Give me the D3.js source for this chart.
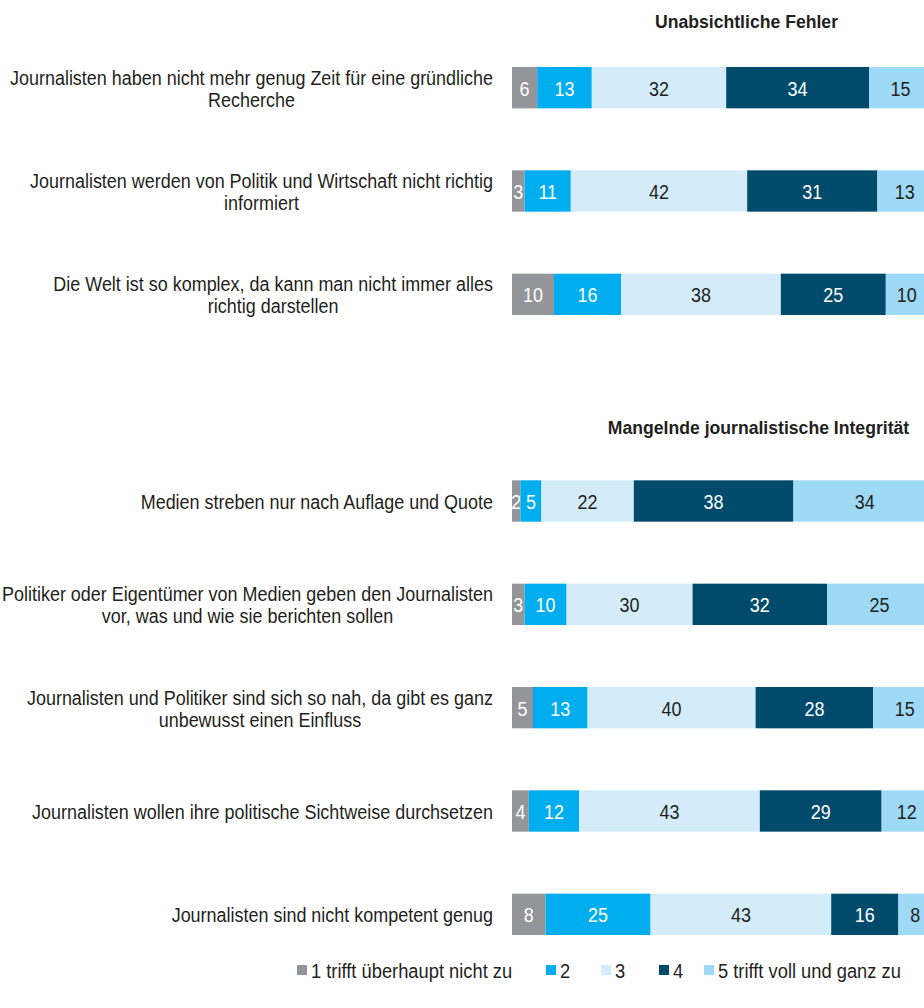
<!DOCTYPE html>
<html>
<head>
<meta charset="utf-8">
<script src="https://cdn.jsdelivr.net/npm/d3@7"></script>
<style>
  body { margin: 0; background: #fff; }
  svg text { font-family: "Liberation Sans", Arial, sans-serif; fill: #231f20; }
</style>
</head>
<body>
<script>
'use strict';

// categories (one entry per bar, line breaks kept as in the picture)
const labels = [
  ["Journalisten haben nicht mehr genug Zeit für eine gründliche", "Recherche"],
  ["Journalisten werden von Politik und Wirtschaft nicht richtig", "informiert"],
  ["Die Welt ist so komplex, da kann man nicht immer alles", "richtig darstellen"],
  ["Medien streben nur nach Auflage und Quote"],
  ["Politiker oder Eigentümer von Medien geben den Journalisten", "vor, was und wie sie berichten sollen"],
  ["Journalisten und Politiker sind sich so nah, da gibt es ganz", "unbewusst einen Einfluss"],
  ["Journalisten wollen ihre politische Sichtweise durchsetzen"],
  ["Journalisten sind nicht kompetent genug"]
];
// which group each bar belongs to
const groupOf = [0, 0, 0, 1, 1, 1, 1, 1];
const groupTitles = ["Unabsichtliche Fehler", "Mangelnde journalistische Integrität"];

// series values (percent), one array per answer level
const s1 = [6, 3, 10, 2, 3, 5, 4, 8];
const s2 = [13, 11, 16, 5, 10, 13, 12, 25];
const s3 = [32, 42, 38, 22, 30, 40, 43, 43];
const s4 = [34, 31, 25, 38, 32, 28, 29, 16];
const s5 = [15, 13, 10, 34, 25, 15, 12, 8];

const seriesNames = ["1 trifft überhaupt nicht zu", "2", "3", "4", "5 trifft voll und ganz zu"];
const seriesColors = ["#939598", "#00aeef", "#d4ecfa", "#004b6b", "#9ed9f6"];
const labelColors = ["#fff", "#fff", "#231f20", "#fff", "#231f20"];

const width = 924, height = 1008;
const fs = "20px";

const rows = labels.map((l, i) => ({
  id: i, lines: l, group: groupOf[i],
  vals: [s1[i], s2[i], s3[i], s4[i], s5[i]]
}));

// slot index: leave one empty slot between the two groups
const slotOf = (d) => d.id + (d.group === 1 ? 1 : 0);

const x = d3.scaleLinear().domain([0, 100]).range([512, 932]);
const y = d3.scaleBand().domain(d3.range(9)).range([36, 966]).paddingInner(0.6).paddingOuter(0.3);

const svg = d3.select("body").append("svg")
    .attr("width", width)
    .attr("height", height);

// the original uses a condensed face; squeeze the installed one to match
function condense(sel, f) {
  sel.each(function() {
    const w = this.getComputedTextLength();
    d3.select(this)
      .attr("textLength", w * f)
      .attr("lengthAdjust", "spacingAndGlyphs");
  });
}

const stack = d3.stack().keys(d3.range(5)).value((d, k) => d.vals[k]);
const layers = stack(rows);

const layer = svg.selectAll(".layer")
  .data(layers)
  .enter().append("g")
    .attr("class", "layer")
    .attr("fill", (d, i) => seriesColors[i]);

layer.selectAll("rect")
  .data((d) => d)
  .enter().append("rect")
    .attr("x", (d) => x(d[0]))
    .attr("y", (d) => y(slotOf(d.data)))
    .attr("width", (d) => x(d[1]) - x(d[0]))
    .attr("height", y.bandwidth());

const nums = layer.selectAll("text")
  .data((d, i) => d.map((p) => ({p: p, k: i})))
  .enter().append("text")
    .attr("x", (d) => (x(d.p[0]) + x(d.p[1])) / 2)
    .attr("y", (d) => y(slotOf(d.p.data)) + y.bandwidth() / 2)
    .attr("dy", "0.4em")
    .attr("text-anchor", "middle")
    .style("font-size", fs)
    .style("fill", (d) => labelColors[d.k])
    .text((d) => d.p.data.vals[d.k]);

// category labels
const cat = svg.selectAll(".cat")
  .data(rows)
  .enter().append("text")
    .attr("class", "cat")
    .attr("text-anchor", "middle")
    .style("font-size", fs)
    .attr("y", (d) => y(slotOf(d)) + y.bandwidth() / 2);

cat.selectAll("tspan")
  .data((d) => d.lines.map((t, j) => ({t: t, j: j, n: d.lines.length})))
  .enter().append("tspan")
    .attr("dy", (d) => d.j === 0 ? (0.4 - (d.n - 1) * 0.55) + "em" : "1.1em")
    .text((d) => d.t);

// factor so that the longest label spans the same width as in the original
const f = 483 / cat.select("tspan").node().getComputedTextLength();

cat.selectAll("tspan").call(condense, f);
nums.call(condense, f);

// right-align the first line, centre the rest under it
cat.each(function() {
  const spans = d3.select(this).selectAll("tspan").nodes();
  const w0 = +spans[0].getAttribute("textLength");
  const cx = 493 - w0 / 2;
  spans.forEach((s) => d3.select(s).attr("x", cx));
});

// group titles
const titles = svg.selectAll(".title")
  .data(groupTitles)
  .enter().append("text")
    .attr("class", "title")
    .attr("x", (d, i) => i === 0 ? 746.5 : 758.5)
    .attr("y", (d, i) => i === 0 ? 28 : 434)
    .attr("text-anchor", "middle")
    .style("font-size", "18px")
    .style("font-weight", "bold")
    .text((d) => d);
const ft = 183 / titles.node().getComputedTextLength();
titles.call(condense, ft);

// legend
const legX = [297, 546, 601, 659, 704];
const leg = svg.selectAll(".leg")
  .data(seriesNames)
  .enter().append("g")
    .attr("class", "leg")
    .attr("transform", (d, i) => "translate(" + legX[i] + ",970)");

leg.append("rect")
    .attr("y", -5)
    .attr("width", 10)
    .attr("height", 10)
    .attr("fill", (d, i) => seriesColors[i]);

leg.append("text")
    .attr("x", 14)
    .attr("dy", "0.4em")
    .style("font-size", fs)
    .text((d) => d)
    .call(condense, f * 1.02);
</script>
</body>
</html>
